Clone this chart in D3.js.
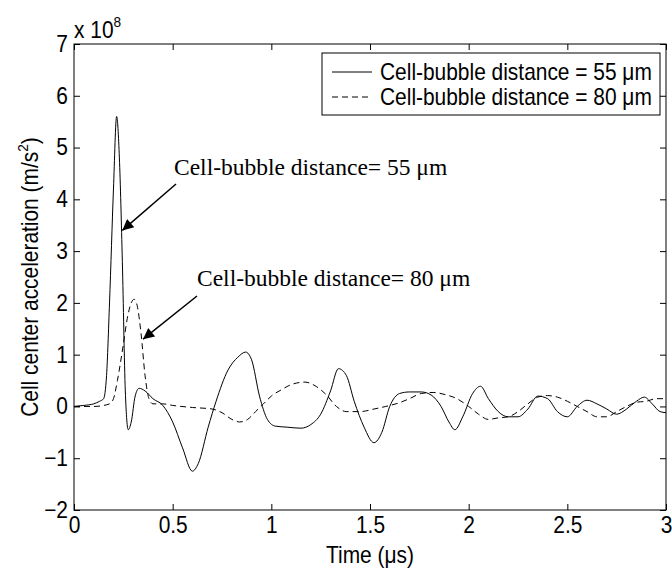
<!DOCTYPE html>
<html>
<head>
<meta charset="utf-8">
<script src="https://cdn.jsdelivr.net/npm/d3@7"></script>
<style>
  body { margin: 0; background: #fff; }
  text { font-family: "Liberation Sans", Arial, sans-serif; }
</style>
</head>
<body>
<svg id="chart" width="672" height="571"></svg>
<script>
// time (us) and acceleration (x 1e8 m/s^2)
var t55 = [0, 0.05, 0.1, 0.13, 0.15, 0.165, 0.18, 0.2, 0.216, 0.23, 0.245, 0.26, 0.275, 0.29, 0.31, 0.33, 0.36, 0.4, 0.45, 0.5, 0.55, 0.6, 0.63, 0.68, 0.72, 0.78, 0.83, 0.87, 0.9, 0.94, 0.98, 1.02, 1.08, 1.15, 1.2, 1.25, 1.3, 1.34, 1.38, 1.42, 1.47, 1.52, 1.56, 1.6, 1.65, 1.7, 1.76, 1.81, 1.86, 1.9, 1.93, 1.97, 2.02, 2.06, 2.1, 2.15, 2.2, 2.25, 2.3, 2.35, 2.4, 2.45, 2.5, 2.55, 2.6, 2.65, 2.7, 2.75, 2.8, 2.85, 2.89, 2.93, 2.97, 3.0];
var a55 = [0, 0.02, 0.05, 0.1, 0.15, 0.6, 2.0, 4.2, 5.6, 4.8, 2.8, 0.3, -0.45, -0.3, 0.2, 0.35, 0.3, 0.15, 0.02, -0.3, -0.8, -1.25, -1.1, -0.4, 0.1, 0.7, 0.95, 1.05, 0.9, 0.2, -0.25, -0.38, -0.4, -0.42, -0.35, -0.15, 0.3, 0.73, 0.6, 0.1, -0.4, -0.7, -0.5, 0.0, 0.25, 0.28, 0.28, 0.22, 0.0, -0.3, -0.45, -0.2, 0.25, 0.39, 0.15, -0.1, -0.2, -0.2, -0.05, 0.2, 0.15, -0.1, -0.2, 0.0, 0.12, 0.05, -0.05, -0.15, -0.05, 0.1, 0.18, 0.05, -0.1, -0.12];

var t80 = [0, 0.1, 0.15, 0.18, 0.2, 0.22, 0.25, 0.27, 0.29, 0.305, 0.32, 0.34, 0.36, 0.38, 0.4, 0.45, 0.5, 0.6, 0.7, 0.75, 0.8, 0.84, 0.88, 0.92, 0.96, 1.0, 1.05, 1.1, 1.17, 1.23, 1.28, 1.33, 1.38, 1.45, 1.52, 1.58, 1.64, 1.7, 1.76, 1.82, 1.88, 1.94, 2.0, 2.05, 2.1, 2.15, 2.2, 2.25, 2.3, 2.35, 2.4, 2.45, 2.5, 2.55, 2.6, 2.65, 2.7, 2.75, 2.8, 2.85, 2.9, 2.95, 3.0];
var a80 = [0, 0, 0.02, 0.05, 0.15, 0.5, 1.2, 1.7, 2.0, 2.07, 1.95, 1.4, 0.6, 0.15, 0.05, 0.05, 0.02, -0.02, -0.05, -0.12, -0.25, -0.3, -0.25, -0.1, 0.05, 0.2, 0.32, 0.42, 0.47, 0.38, 0.22, 0.0, -0.1, -0.1, -0.05, 0.0, 0.06, 0.15, 0.25, 0.27, 0.23, 0.15, 0.0, -0.15, -0.25, -0.22, -0.2, -0.1, 0.05, 0.18, 0.21, 0.18, 0.1, 0.0, -0.1, -0.2, -0.2, -0.1, 0.0, 0.08, 0.1, 0.15, 0.15];

var xTicks = [0, 0.5, 1, 1.5, 2, 2.5, 3];
var yTicks = [-2, -1, 0, 1, 2, 3, 4, 5, 6, 7];
var legendLabels = ["Cell-bubble distance = 55 \u03bcm", "Cell-bubble distance = 80 \u03bcm"];
var noteLabels = ["Cell-bubble distance= 55 \u03bcm", "Cell-bubble distance= 80 \u03bcm"];

var FS = 23, SX = 0.91;   // narrow helvetica look

var margin = {top: 44, right: 6, bottom: 61, left: 74},
    width = 672 - margin.left - margin.right,
    height = 571 - margin.top - margin.bottom;

var svg = d3.select("#chart");
var g = svg.append("g").attr("transform", "translate(" + margin.left + "," + margin.top + ")");

var x = d3.scaleLinear().domain([0, 3]).range([0, width]);
var y = d3.scaleLinear().domain([-2, 7]).range([height, 0]);

// squeeze tick labels horizontally around their anchor
function narrowTicks(sel) {
  sel.selectAll(".tick text").each(function() {
    var t = d3.select(this);
    var tx = +t.attr("x") || 0, ty = +t.attr("y") || 0;
    t.attr("transform", "translate(" + tx + "," + ty + ") scale(" + SX + ",1)")
     .attr("x", 0).attr("y", 0);
  });
}
function styleAxis(sel) {
  sel.select(".domain").remove();
  sel.selectAll("line").attr("stroke", "#000");
  sel.selectAll("text").attr("font-size", FS).attr("fill", "#000")
    .style("font-family", "'Liberation Sans', Arial, sans-serif");
  narrowTicks(sel);
}
g.append("g").attr("transform", "translate(0," + height + ")")
  .call(d3.axisBottom(x).tickValues(xTicks).tickSize(-6).tickPadding(7).tickFormat(d3.format("")))
  .call(styleAxis);
g.append("g")
  .call(d3.axisTop(x).tickValues(xTicks).tickSize(-6).tickFormat(""))
  .call(styleAxis);
g.append("g")
  .call(d3.axisLeft(y).tickValues(yTicks).tickSize(-6).tickPadding(6).tickFormat(d3.format("")))
  .call(styleAxis);
g.append("g").attr("transform", "translate(" + width + ",0)")
  .call(d3.axisRight(y).tickValues(yTicks).tickSize(-6).tickFormat(""))
  .call(styleAxis);

g.append("rect").attr("width", width).attr("height", height)
  .attr("fill", "none").attr("stroke", "#000").attr("stroke-width", 1);

// curves
var line = d3.line().curve(d3.curveMonotoneX)
  .x(function(d) { return x(d[0]); }).y(function(d) { return y(d[1]); });
g.append("path").datum(d3.zip(t55, a55)).attr("d", line)
  .attr("fill", "none").attr("stroke", "#000").attr("stroke-width", 1);
g.append("path").datum(d3.zip(t80, a80)).attr("d", line)
  .attr("fill", "none").attr("stroke", "#000").attr("stroke-width", 1).attr("stroke-dasharray", "6,4");

// x 10^8 exponent label
var ex = svg.append("text").attr("transform", "translate(74,38) scale(" + SX + ",1)").attr("font-size", FS);
ex.append("tspan").text("x 10");
ex.append("tspan").attr("dy", -11).attr("font-size", 15).text("8");

// axis titles
svg.append("text").attr("transform", "translate(" + (margin.left + width / 2) + ",563) scale(" + SX + ",1)")
  .attr("text-anchor", "middle").attr("font-size", FS).text("Time (\u03bcs)");
var yl = svg.append("text")
  .attr("transform", "translate(38," + (margin.top + height / 2) + ") rotate(-90) scale(" + SX + ",1)")
  .attr("text-anchor", "middle").attr("font-size", FS);
yl.append("tspan").text("Cell center acceleration (m/s");
yl.append("tspan").attr("dy", -10).attr("font-size", 15).text("2");
yl.append("tspan").attr("dy", 10).text(")");

// legend
var lg = svg.append("g").attr("transform", "translate(322,53)");
lg.append("rect").attr("width", 338).attr("height", 62)
  .attr("fill", "#fff").attr("stroke", "#000");
legendLabels.forEach(function(lab, i) {
  var ly = 19 + i * 25;
  lg.append("line").attr("x1", 10).attr("x2", 50).attr("y1", ly).attr("y2", ly)
    .attr("stroke", "#000").attr("stroke-dasharray", i ? "6,4" : null);
  lg.append("text").attr("transform", "translate(58," + (ly + 8) + ") scale(" + SX + ",1)")
    .attr("font-size", FS).text(lab);
});

// annotations with arrows
svg.append("defs").append("marker").attr("id", "arr")
  .attr("viewBox", "0 0 10 10").attr("refX", 10).attr("refY", 5)
  .attr("markerWidth", 16).attr("markerHeight", 11).attr("markerUnits", "userSpaceOnUse")
  .attr("orient", "auto")
  .append("path").attr("d", "M0,0 L10,5 L0,10 z").attr("fill", "#000");

var notes = [
  {label: noteLabels[0], tx: 174, ty: 175, from: [176, 184], to: [0.245, 3.4]},
  {label: noteLabels[1], tx: 197, ty: 286, from: [197, 296], to: [0.35, 1.3]}
];
notes.forEach(function(n) {
  svg.append("text").attr("x", n.tx).attr("y", n.ty)
    .style("font-family", "'Liberation Serif', 'Times New Roman', serif")
    .attr("font-size", 23.5).text(n.label);
  svg.append("line").attr("x1", n.from[0]).attr("y1", n.from[1])
    .attr("x2", margin.left + x(n.to[0])).attr("y2", margin.top + y(n.to[1]))
    .attr("stroke", "#000").attr("stroke-width", 1.5).attr("marker-end", "url(#arr)");
});
</script>
</body>
</html>
